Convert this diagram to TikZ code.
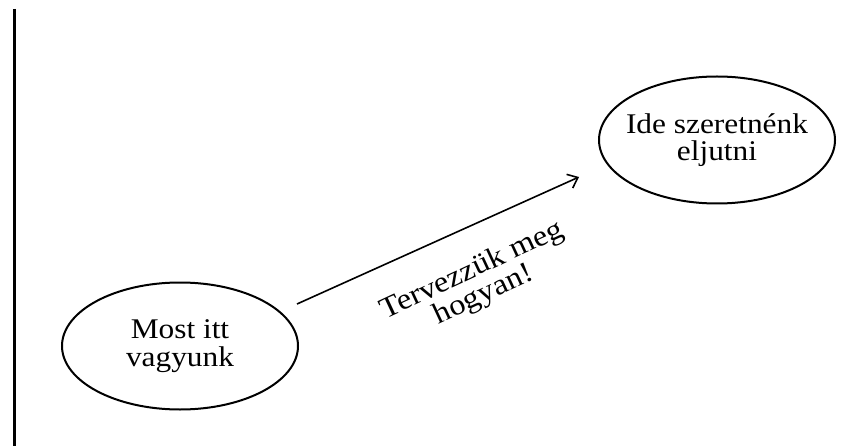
\documentclass[tikz,border=0pt]{standalone}
\usepackage{fontspec}
\setmainfont{Liberation Serif}[FakeStretch=1.1]
\usetikzlibrary{shapes.geometric,arrows.meta}
\begin{document}
\begin{tikzpicture}[x=1pt,y=-1pt,
  bubble/.style={draw=black,line width=2pt,ellipse,inner ysep=0pt,inner xsep=-30pt,
    minimum width=236pt,minimum height=127pt,align=center,
    font=\fontsize{28.5}{27.5}\selectfont},
  arrowline/.style={draw=black,line width=1.6pt,-{Straight Barb[length=9pt,width=15pt,line width=1.6pt]}},
  lbl/.style={align=center,font=\fontsize{29.5}{27}\selectfont,inner sep=0pt}]
\useasboundingbox (0,0) rectangle (853,446);
\fill[white] (0,0) rectangle (853,446);
\coordinate (lt) at (14,9);
\coordinate (lb) at (14,446);
\draw[line width=3pt] (lt) -- (lb);
\node[bubble] (now) at (180,346) {Most itt\\vagyunk};
\node[bubble] (goal) at (717,140) {Ide szeretnénk\\eljutni};
\coordinate (s) at (297,304);
\coordinate (e) at (579,177);
\draw[arrowline] (s) -- (e);
\node[lbl,rotate=25] (plan) at (478,283) {Tervezzük meg\\hogyan!};
\end{tikzpicture}
\end{document}
